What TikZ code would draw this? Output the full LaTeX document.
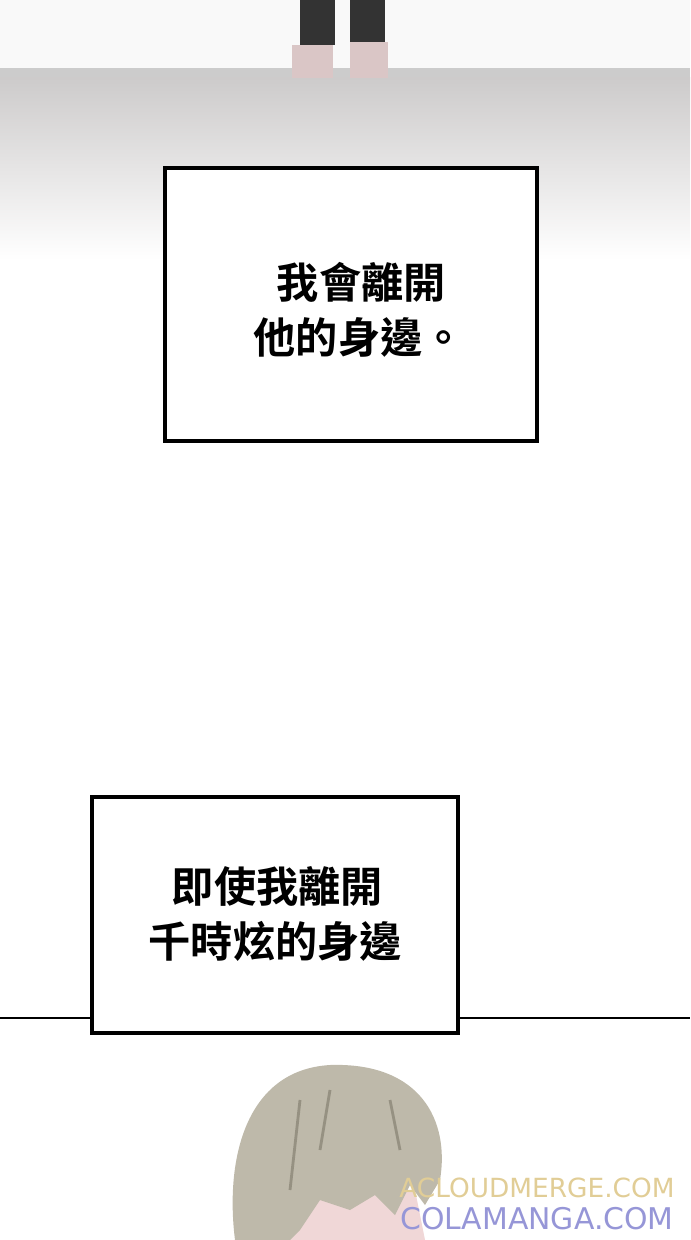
\documentclass[tikz,border=0pt]{standalone}
\usepackage{fontspec}
\newfontfamily\cjk{Noto Sans CJK TC Bold}
\newfontfamily\wm{DejaVu Sans}
\definecolor{floorgray}{RGB}{205,203,203}
\definecolor{hairgray}{RGB}{190,185,170}
\definecolor{hairdark}{RGB}{150,145,130}
\definecolor{skin}{RGB}{240,215,215}
\definecolor{wmgold}{RGB}{225,205,150}
\definecolor{wmblue}{RGB}{150,150,215}
\begin{document}
\begin{tikzpicture}[x=0.01cm,y=-0.01cm,
  caption/.style={draw=black,line width=1.2pt,fill=white},
  captext/.style={font=\cjk\fontsize{12}{15.6}\selectfont,align=left}]
\useasboundingbox (0,0) rectangle (690,1240);
% floor scene
\fill[white!95!gray] (0,0) rectangle (690,72);
\fill[gray!40] (0,68) rectangle (690,78);
\shade[top color=floorgray,bottom color=white] (0,78) rectangle (690,260);
\fill[black!80] (300,0) rectangle (335,45);
\fill[black!80] (350,0) rectangle (385,42);
\fill[skin!80!gray] (292,45) rectangle (333,78);
\fill[skin!80!gray] (350,42) rectangle (388,78);
% captions
\draw[caption] (165,168) rectangle (537,441);
\coordinate (c1) at (253,310);
\node (txt1) [captext,anchor=west,inner sep=0pt] at (c1) {\hspace*{0.55em}我會離開\\他的身邊。};
\draw (0,1018) -- (690,1018);
\draw[caption] (92,797) rectangle (458,1033);
\coordinate (c2) at (148,914);
\node (txt2) [captext,anchor=west,inner sep=0pt] at (c2) {\hspace*{0.55em}即使我離開\\千時炫的身邊};
% head
\fill[skin] (265,1240) -- (275,1190) -- (415,1190) -- (425,1240) -- cycle;
\fill[hairgray] (235,1240) .. controls (225,1160) and (245,1070) .. (330,1065)
  .. controls (420,1062) and (450,1120) .. (440,1180) -- (425,1205) -- (410,1185)
  -- (395,1215) -- (375,1195) -- (350,1210) -- (320,1200) -- (300,1230) -- (290,1240) -- cycle;
\draw[hairdark,line width=0.8pt] (300,1100) -- (290,1190) (330,1090) -- (320,1150) (390,1100) -- (400,1150);
% watermark
\node (wm1) [text=wmgold,font=\wm\fontsize{7.5}{9}\selectfont] at (537,1188) {ACLOUDMERGE.COM};
\node (wm2) [text=wmblue,font=\wm\fontsize{8.5}{10}\selectfont] at (537,1219) {COLAMANGA.COM};
\end{tikzpicture}
\end{document}
